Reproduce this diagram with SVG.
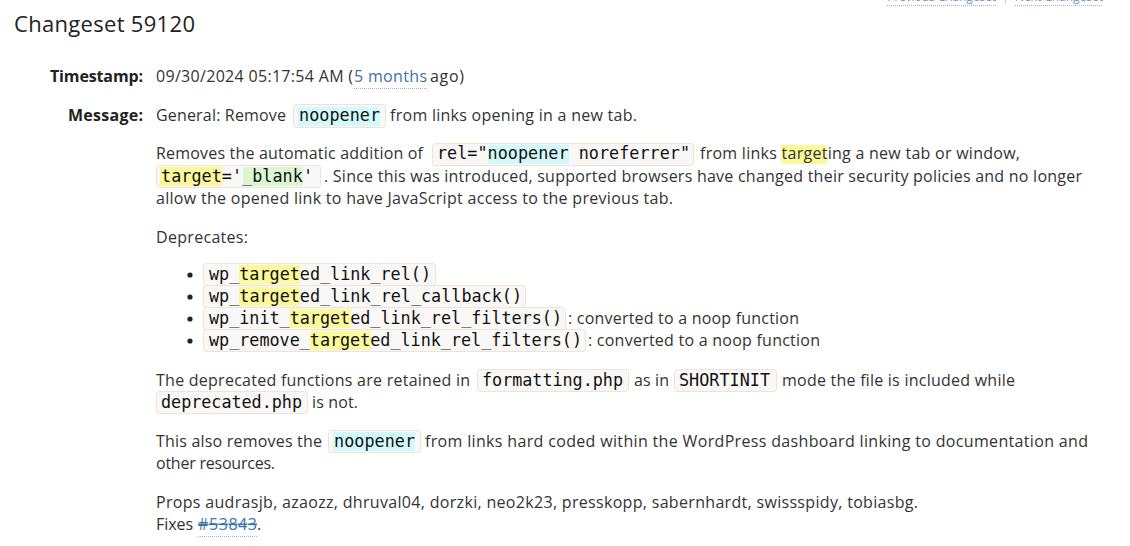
<svg xmlns="http://www.w3.org/2000/svg" width="1130" height="546" viewBox="0 0 1130 546">
<style>
.t{font-family:"Open Sans","Noto Sans","Liberation Sans",sans-serif;font-size:16px;fill:#333}
.b{font-weight:bold;fill:#222}
.h1{font-family:"Open Sans","Noto Sans","Liberation Sans",sans-serif;font-size:22px;fill:#222}
.m{font-family:"DejaVu Sans Mono","Liberation Mono",monospace;font-size:16.8px;fill:#111}
.box{fill:#faf8f6;stroke:#efe2d6;stroke-width:1}
.hc{fill:#d2fafc}
.hy{fill:#fcf99c}
.hg{fill:#d9f8d2}
.lk{fill:#3c73a8}
.dot{stroke:#a9b4bf;stroke-width:1;stroke-dasharray:1 1;fill:none}
.nav{font-family:"Open Sans","Noto Sans","Liberation Sans",sans-serif;font-size:12px;fill:#6b9ac4}
</style>
<rect width="1130" height="546" fill="#fff"/>

<g id="nav">
<text class="nav" x="887" y="0.5" textLength="109">Previous Changeset</text>
<line class="dot" x1="887" y1="5.5" x2="996" y2="5.5"/>
<line x1="1005.5" y1="0" x2="1005.5" y2="4" stroke="#ccc"/>
<text class="nav" x="1015" y="0.5" textLength="88">Next Changeset</text>
<line class="dot" x1="1015" y1="5.5" x2="1103" y2="5.5"/>
</g>

<g id="title">
<text class="h1" x="14" y="32" textLength="181">Changeset 59120</text>
</g>

<g id="timestamp">
<text class="t b" x="143" y="82" text-anchor="end" textLength="93">Timestamp:</text>
<text class="t" x="156" y="82" textLength="197">09/30/2024 05:17:54 AM (</text>
<text class="t lk" x="354" y="82" textLength="73">5 months</text>
<line class="dot" x1="354" y1="88.5" x2="427" y2="88.5"/>
<text class="t" x="430" y="82" textLength="34">ago)</text>
</g>

<g id="message-label">
<text class="t b" x="143" y="121" text-anchor="end" textLength="75">Message:</text>
<text class="t" x="156" y="121" textLength="130">General: Remove</text>
<rect class="box" x="293.5" y="104.5" width="92" height="23" rx="3"/>
<rect class="hc" x="298" y="107" width="82" height="19"/>
<text class="m" x="299" y="121" textLength="81">noopener</text>
<text class="t" x="390" y="121" textLength="247">from links opening in a new tab.</text>
</g>

<g id="para-removes">
<text class="t" x="156" y="159" textLength="267">Removes the automatic addition of</text>
<rect class="box" x="432.5" y="143.5" width="261" height="22" rx="3"/>
<rect class="hc" x="488" y="145" width="81" height="19"/>
<text class="m" x="437" y="159" textLength="253">rel="noopener noreferrer"</text>
<rect class="hy" x="781" y="145" width="46" height="19"/>
<text class="t" x="700" y="159" textLength="320">from links targeting a new tab or window,</text>

<rect class="box" x="156.5" y="165.5" width="164" height="22" rx="3"/>
<rect class="hy" x="160" y="167" width="62" height="19"/>
<rect class="hg" x="243" y="167" width="60" height="19"/>
<text class="m" x="161" y="182" textLength="152">target='_blank'</text>
<text class="t" x="324" y="182" textLength="758">. Since this was introduced, supported browsers have changed their security policies and no longer</text>
<text class="t" x="156" y="204" textLength="517">allow the opened link to have JavaScript access to the previous tab.</text>
</g>

<g id="deprecates">
<text class="t" x="156" y="243" textLength="92">Deprecates:</text>
<circle cx="190" cy="275" r="2.6" fill="#222"/>
<circle cx="190" cy="297" r="2.6" fill="#222"/>
<circle cx="190" cy="319" r="2.6" fill="#222"/>
<circle cx="190" cy="341" r="2.6" fill="#222"/>

<rect class="box" x="203.5" y="263.5" width="232" height="22" rx="3"/>
<rect class="hy" x="239" y="265" width="61" height="19"/>
<text class="m" x="209" y="280" textLength="222">wp_targeted_link_rel()</text>

<rect class="box" x="203.5" y="285.5" width="322" height="22" rx="3"/>
<rect class="hy" x="239" y="287" width="61" height="19"/>
<text class="m" x="209" y="302" textLength="313">wp_targeted_link_rel_callback()</text>

<rect class="box" x="203.5" y="307.5" width="362" height="22" rx="3"/>
<rect class="hy" x="290" y="309" width="61" height="19"/>
<text class="m" x="209" y="324" textLength="353">wp_init_targeted_link_rel_filters()</text>
<text class="t" x="568" y="324" textLength="231">: converted to a noop function</text>

<rect class="box" x="203.5" y="329.5" width="382" height="22" rx="3"/>
<rect class="hy" x="310" y="331" width="61" height="19"/>
<text class="m" x="209" y="346" textLength="373">wp_remove_targeted_link_rel_filters()</text>
<text class="t" x="588" y="346" textLength="232">: converted to a noop function</text>
</g>

<g id="para-retained">
<text class="t" x="156" y="386" textLength="314">The deprecated functions are retained in</text>
<rect class="box" x="477.5" y="369.5" width="151" height="22" rx="3"/>
<text class="m" x="482" y="386" textLength="141">formatting.php</text>
<text class="t" x="634" y="386" textLength="35">as in</text>
<rect class="box" x="674.5" y="369.5" width="102" height="22" rx="3"/>
<text class="m" x="679" y="386" textLength="91">SHORTINIT</text>
<text class="t" x="782" y="386" textLength="233">mode the file is included while</text>
<rect class="box" x="156.5" y="391.5" width="151" height="22" rx="3"/>
<text class="m" x="161" y="408" textLength="141">deprecated.php</text>
<text class="t" x="312" y="408" textLength="46">is not.</text>
</g>

<g id="para-also">
<text class="t" x="156" y="447" textLength="166">This also removes the</text>
<rect class="box" x="328.5" y="430.5" width="92" height="22" rx="3"/>
<rect class="hc" x="333" y="432" width="82" height="19"/>
<text class="m" x="334" y="447" textLength="81">noopener</text>
<text class="t" x="425" y="447" textLength="663">from links hard coded within the WordPress dashboard linking to documentation and</text>
<text class="t" x="156" y="469" textLength="119">other resources.</text>
</g>

<g id="props">
<text class="t" x="156" y="508" textLength="762">Props audrasjb, azaozz, dhruval04, dorzki, neo2k23, presskopp, sabernhardt, swissspidy, tobiasbg.</text>
<text class="t" x="156" y="530" textLength="37">Fixes</text>
<text class="t lk" x="198" y="530" textLength="59" text-decoration="line-through">#53843</text>
<line class="dot" x1="198" y1="536.5" x2="257" y2="536.5"/>
<text class="t" x="257" y="530">.</text>
</g>
</svg>
